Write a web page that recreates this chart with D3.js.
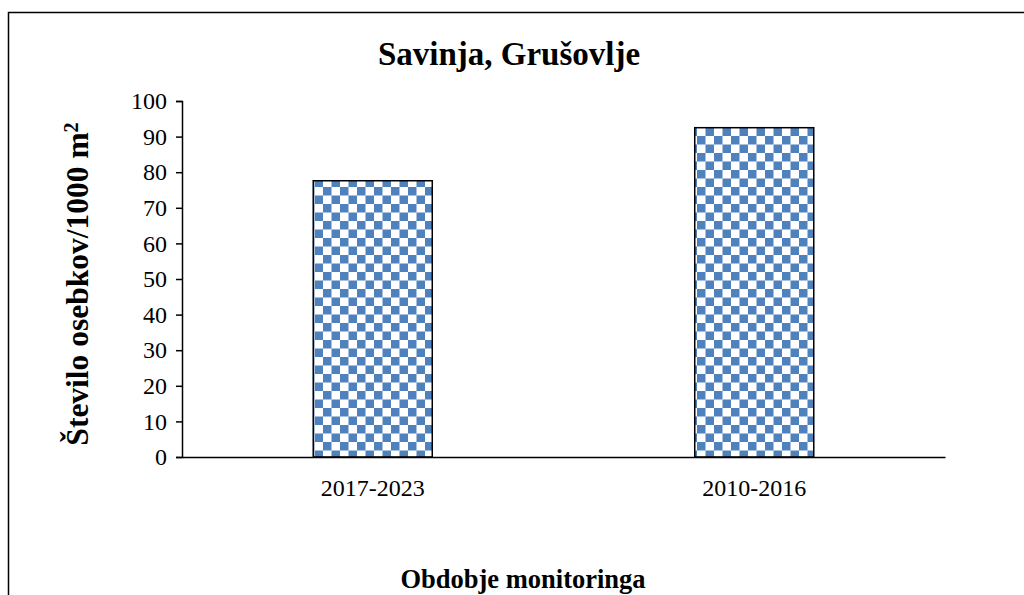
<!DOCTYPE html>
<html>
<head>
<meta charset="utf-8">
<script src="https://cdn.jsdelivr.net/npm/d3@7"></script>
<style>
  html, body { margin: 0; padding: 0; background: #fff; }
  svg { display: block; }
  text { font-family: "Liberation Serif", "Times New Roman", serif; fill: #000; }
</style>
</head>
<body>
<script>
// Data
const categories = ["2017-2023", "2010-2016"];
const values = [77.6, 92.5];
const yTicks = [0, 10, 20, 30, 40, 50, 60, 70, 80, 90, 100];
const titleText = "Savinja, Grušovlje";
const xTitleText = "Obdobje monitoringa";

const W = 1024, H = 595;
const svg = d3.select("body").append("svg").attr("width", W).attr("height", H);

// Checkerboard fill for the bars
const defs = svg.append("defs");
const cell = 8.5;
const pat = defs.append("pattern")
  .attr("id", "checker")
  .attr("patternUnits", "userSpaceOnUse")
  .attr("width", cell * 2).attr("height", cell * 2)
  .attr("x", 0).attr("y", 0);
pat.append("rect").attr("width", cell * 2).attr("height", cell * 2).attr("fill", "#ffffff");
pat.append("rect").attr("x", 0).attr("y", 0).attr("width", cell).attr("height", cell).attr("fill", "#4f81bd");
pat.append("rect").attr("x", cell).attr("y", cell).attr("width", cell).attr("height", cell).attr("fill", "#4f81bd");

// Outer frame (open on the right and bottom edges)
svg.append("rect")
  .attr("x", 8.5).attr("y", 12.5)
  .attr("width", W + 20).attr("height", H + 20)
  .attr("fill", "none").attr("stroke", "#000").attr("stroke-width", 1.5);

const plot = { left: 182, right: 945, top: 101, bottom: 457 };

const x = d3.scaleBand()
  .domain(categories)
  .range([plot.left, plot.right])
  .paddingInner(0.688)
  .paddingOuter(0.344);

const y = d3.scaleLinear().domain([0, 100]).range([plot.bottom, plot.top]);

// Bars
svg.append("g").selectAll("rect")
  .data(values)
  .join("rect")
  .attr("x", (d, i) => x(categories[i]))
  .attr("y", d => y(d))
  .attr("width", x.bandwidth())
  .attr("height", d => y(0) - y(d))
  .attr("fill", "url(#checker)")
  .attr("stroke", "#000")
  .attr("stroke-width", 1.5);

// Y axis
const yAxis = svg.append("g")
  .attr("transform", `translate(${plot.left},0)`)
  .call(d3.axisLeft(y).tickValues(yTicks).tickSize(6).tickPadding(9).tickFormat(d3.format("d")));
yAxis.select(".domain").attr("stroke", "#000").attr("stroke-width", 1.5);
yAxis.selectAll(".tick line").attr("stroke", "#000").attr("stroke-width", 1.5);
yAxis.selectAll(".tick text")
  .style("font-family", "'Liberation Serif', serif")
  .style("font-size", "24px")
  .attr("fill", "#000");

// X axis
const xAxis = svg.append("g")
  .attr("transform", `translate(0,${plot.bottom})`)
  .call(d3.axisBottom(x).tickSize(0).tickPadding(22).tickSizeOuter(0));
xAxis.select(".domain").attr("stroke", "#000").attr("stroke-width", 1.5);
xAxis.selectAll(".tick text")
  .style("font-family", "'Liberation Serif', serif")
  .style("font-size", "24px")
  .attr("fill", "#000");

// Titles
svg.append("text")
  .attr("x", 509).attr("y", 65)
  .attr("text-anchor", "middle")
  .style("font-size", "33px").style("font-weight", "bold")
  .text(titleText);

svg.append("text")
  .attr("x", 523).attr("y", 588)
  .attr("text-anchor", "middle")
  .style("font-size", "26.5px").style("font-weight", "bold")
  .text(xTitleText);

const yTitle = svg.append("text")
  .attr("transform", "translate(88,284) rotate(-90)")
  .attr("text-anchor", "middle")
  .style("font-size", "31.5px").style("font-weight", "bold");
yTitle.append("tspan").text("Število osebkov/1000 m");
yTitle.append("tspan").attr("dy", -10).style("font-size", "20px").text("2");
</script>
</body>
</html>
